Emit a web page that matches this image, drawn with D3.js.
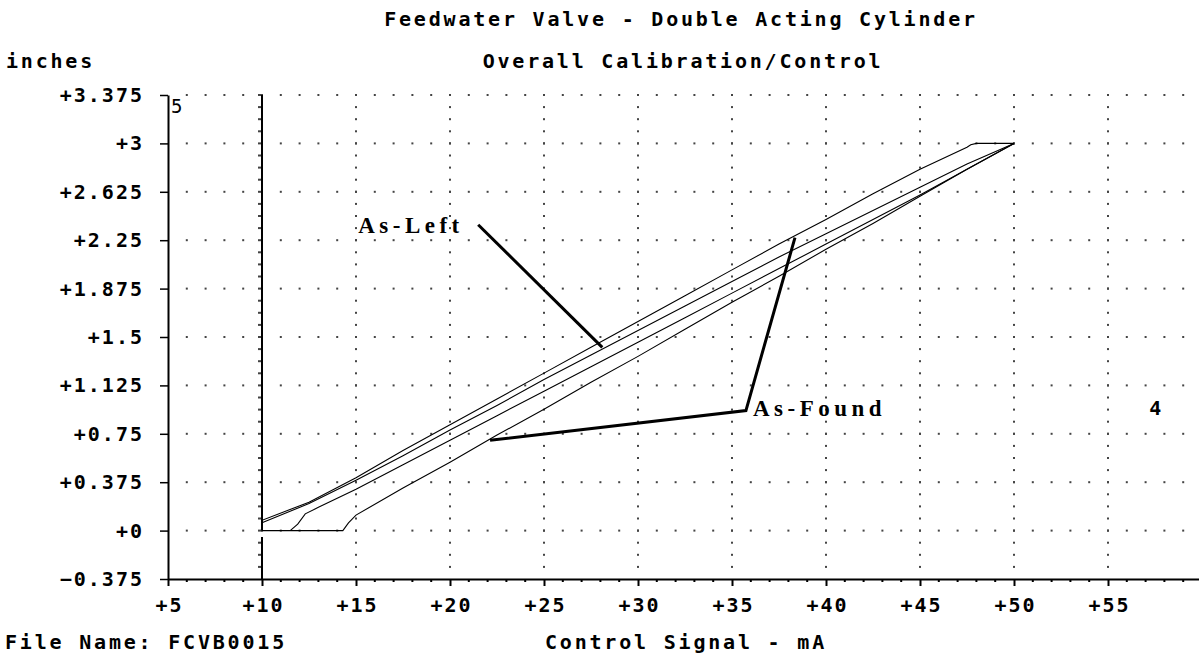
<!DOCTYPE html>
<html>
<head>
<meta charset="utf-8">
<script src="https://cdn.jsdelivr.net/npm/d3@7"></script>
<style>
  body { margin: 0; background: #fff; }
  svg { display: block; }
  .lbl { font-family: "DejaVu Sans Mono", monospace; font-weight: bold; font-size: 20px; letter-spacing: 2.8px; fill: #000; }
  .tick text { font-family: "DejaVu Sans Mono", monospace; font-weight: bold; font-size: 20px; letter-spacing: 2px; fill: #000; }
  .note { font-family: "Liberation Serif", serif; font-weight: bold; font-size: 23px; letter-spacing: 4.5px; fill: #000; }
</style>
</head>
<body>
<svg width="1199" height="654"></svg>
<script>
const svg = d3.select('svg');
const WIDTH = +svg.attr('width');
const HEIGHT = +svg.attr('height');

// ticks
const xTickValues = [5, 10, 15, 20, 25, 30, 35, 40, 45, 50, 55];
const xTickLabels = ['+5', '+10', '+15', '+20', '+25', '+30', '+35', '+40', '+45', '+50', '+55'];
const yTickValues = [-0.375, 0, 0.375, 0.75, 1.125, 1.5, 1.875, 2.25, 2.625, 3, 3.375];
const yTickLabels = ['\u22120.375', '+0', '+0.375', '+0.75', '+1.125', '+1.5', '+1.875', '+2.25', '+2.625', '+3', '+3.375'];

// traces, [mA, inches]
const asFoundUp = [[10, 0], [12, 0], [14.3, 0], [14.6, 0.06], [15, 0.12], [17.5, 0.33], [20, 0.53], [22.5, 0.74],
    [25, 0.94], [27.5, 1.15], [30, 1.35], [32.5, 1.56], [35, 1.77], [37.5, 1.97], [40, 2.18], [42.5, 2.38],
    [45, 2.59], [47.5, 2.8], [50, 3.0]];
const asFoundDown = [[50, 3.0], [49, 3.0], [48, 3.0], [47.7, 2.99], [47.5, 2.97], [45, 2.8], [42.5, 2.61],
    [40, 2.41], [37.5, 2.22], [35, 2.02], [32.5, 1.82], [30, 1.62], [27.5, 1.42], [25, 1.22], [22.5, 1.02],
    [20, 0.82], [17.5, 0.62], [15, 0.41], [12.5, 0.22], [10, 0.08], [10, 0]];
const asLeftUp = [[11.5, 0], [11.9, 0.05], [12.3, 0.13], [13, 0.18], [15, 0.32], [17.5, 0.51], [20, 0.7],
    [22.5, 0.89], [25, 1.08], [27.5, 1.27], [30, 1.46], [32.5, 1.65], [35, 1.84], [37.5, 2.03], [40, 2.22],
    [42.5, 2.41], [45, 2.6], [47.5, 2.8], [50, 3.0]];
const asLeftDown = [[50, 3.0], [47.5, 2.84], [45, 2.66], [42.5, 2.48], [40, 2.3], [37.5, 2.12], [35, 1.93],
    [32.5, 1.74], [30, 1.55], [27.5, 1.36], [25, 1.17], [22.5, 0.97], [20, 0.78], [17.5, 0.58], [15, 0.39],
    [12.5, 0.21], [10, 0.06]];
const startLine = [[[10, 3.375], [10, 0]], [[10, -0.05], [10, -0.375]]];

// annotation pointers
const asLeftPointer = [[21.5, 2.37], [28.1, 1.42]];
const asFoundPointer = [[38.35, 2.27], [35.74, 0.93], [22.13, 0.7]];

const xScale = d3.scaleLinear().domain([5, 60]).range([168, 1202]);
const yScale = d3.scaleLinear().domain([-0.375, 3.375]).range([579, 95]);

// dotted grid
const grid = svg.append('g');
yTickValues.slice(1).forEach(v => {
    grid.selectAll(null)
        .data(d3.range(6, 60))
        .enter().append('rect')
        .attr('x', d => xScale(d) - 1)
        .attr('y', yScale(v) - 1)
        .attr('width', 2).attr('height', 2)
        .style('fill', '#444');
});
xTickValues.slice(1).forEach(v => {
    grid.selectAll(null)
        .data(d3.range(1, 41).map(i => -0.375 + i * 0.09375))
        .enter().append('rect')
        .attr('x', v == 10 ? xScale(v) - 4 : xScale(v) - 1)
        .attr('y', d => yScale(d) - 1)
        .attr('width', v == 10 ? 4 : 2).attr('height', 2)
        .style('fill', '#444');
});

// axes
let xAxis = d3.axisBottom(xScale).tickValues(xTickValues)
    .tickFormat((d, i) => xTickLabels[i]).tickSize(7).tickSizeOuter(0).tickPadding(12);
let yAxis = d3.axisLeft(yScale).tickValues(yTickValues)
    .tickFormat((d, i) => yTickLabels[i]).tickSize(8).tickSizeOuter(0).tickPadding(18);

let xg = svg.append('g')
    .attr('transform', 'translate(0,' + yScale(-0.375) + ')')
    .call(xAxis);
xg.select('.domain').style('stroke-width', 2);
xg.selectAll('.tick line').style('stroke-width', 2);
xg.selectAll('.tick text').attr('dx', '1px');
xg.selectAll('.minor')
    .data(d3.range(6, 60).filter(d => d % 5 != 0))
    .enter().append('rect')
    .attr('class', 'minor')
    .attr('x', d => xScale(d) - 1).attr('y', 1)
    .attr('width', 2).attr('height', 2)
    .style('fill', '#000');

let yg = svg.append('g')
    .attr('transform', 'translate(' + xScale(5) + ',0)')
    .call(yAxis);
yg.select('.domain').style('stroke-width', 2);
yg.selectAll('.tick line').style('stroke-width', 1.5);
yg.selectAll('.tick text').attr('dx', '2px');

// traces
const line = d3.line().x(d => xScale(d[0])).y(d => yScale(d[1]));
const plot = svg.append('g');
[asFoundUp, asFoundDown, asLeftUp, asLeftDown].forEach(s => {
    plot.append('path')
        .attr('d', line(s))
        .style('fill', 'none')
        .style('stroke', '#000')
        .style('stroke-width', 1.1);
});
startLine.forEach(s => {
    plot.append('path')
        .attr('d', line(s))
        .style('fill', 'none')
        .style('stroke', '#000')
        .style('stroke-width', 2);
});

// annotations
[asLeftPointer, asFoundPointer].forEach(p => {
    plot.append('path')
        .attr('d', line(p))
        .style('fill', 'none')
        .style('stroke', '#000')
        .style('stroke-width', 3);
});
svg.append('text').attr('class', 'note')
    .attr('x', xScale(asLeftPointer[0][0]) - 120)
    .attr('y', yScale(asLeftPointer[0][1]) + 8)
    .text('As-Left');
svg.append('text').attr('class', 'note')
    .attr('x', xScale(asFoundPointer[1][0]) + 7)
    .attr('y', yScale(asFoundPointer[1][1]) + 5)
    .text('As-Found');

svg.append('text').attr('class', 'lbl')
    .attr('x', xScale(57.2)).attr('y', yScale(0.95) + 7)
    .text('4');
svg.append('text')
    .attr('x', xScale(5) + 3).attr('y', yScale(3.375) + 18)
    .style('font-family', '"DejaVu Sans Mono", monospace')
    .style('font-size', '19px')
    .text('5');

// titles
svg.append('text').attr('class', 'lbl')
    .attr('x', 681).attr('y', 26)
    .style('text-anchor', 'middle')
    .text('Feedwater Valve - Double Acting Cylinder');
svg.append('text').attr('class', 'lbl')
    .attr('x', 683).attr('y', 68)
    .style('text-anchor', 'middle')
    .text('Overall Calibration/Control');
svg.append('text').attr('class', 'lbl')
    .attr('x', 6).attr('y', 68)
    .text('inches');
svg.append('text').attr('class', 'lbl')
    .attr('x', 5).attr('y', 649)
    .text('File Name: FCVB0015');
svg.append('text').attr('class', 'lbl')
    .attr('x', 545).attr('y', 649)
    .text('Control Signal - mA');
</script>
</body>
</html>
